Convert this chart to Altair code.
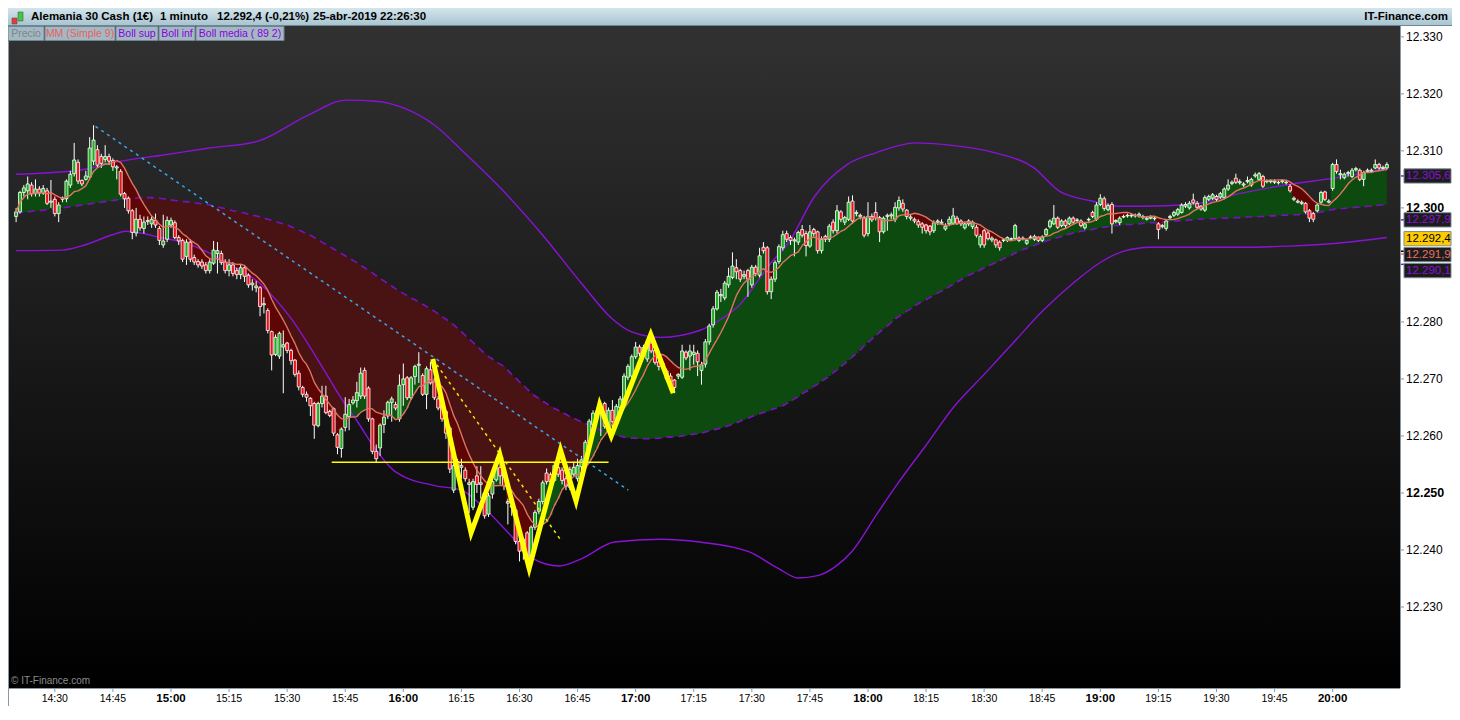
import altair as alt
import pandas as pd

# ---------------- data ----------------
START = 14 * 60 + 20  # first 1-minute candle at 14:20 (minutes of day)

open_ = [
    12298.5, 12299.3, 12302.7, 12303.0, 12304.0, 12302.5, 12303.3, 12302.6, 12303.0, 12301.0,
    12301.5, 12299.0, 12301.5, 12301.6, 12304.0, 12306.0, 12308.0, 12304.8, 12305.0, 12305.4,
    12308.2, 12310.2, 12309.0, 12308.5, 12309.0, 12308.3, 12307.0, 12306.4, 12302.5, 12301.7,
    12299.5, 12295.6, 12298.0, 12296.4, 12297.6, 12297.2, 12297.8, 12296.4, 12293.5, 12294.5,
    12297.0, 12297.4, 12294.8, 12294.3, 12291.5, 12294.0, 12291.3, 12290.6, 12290.5, 12290.0,
    12289.0, 12290.3, 12292.0, 12292.0, 12290.5, 12289.0, 12290.0, 12289.0, 12288.3, 12289.5,
    12288.2, 12286.5, 12286.0, 12286.0, 12283.0, 12282.0, 12278.3, 12274.3, 12274.0, 12275.6,
    12276.3, 12275.0, 12273.3, 12271.0, 12268.5, 12267.3,
    12266.6, 12265.7, 12261.8, 12265.7, 12267.0,
    12264.3, 12264.8, 12260.2, 12257.8, 12261.5, 12263.4, 12265.8, 12266.2, 12267.0, 12271.5,
    12268.4, 12263.0, 12257.3, 12257.9, 12262.0, 12263.5, 12265.9, 12265.5, 12263.0, 12269.0,
    12270.2, 12266.7, 12270.4, 12272.4, 12270.6, 12267.3, 12271.6, 12269.5, 12266.5, 12265.5,
    12264.3, 12261.4, 12250.5, 12255.5, 12254.5, 12254.0, 12251.5, 12247.5, 12253.0, 12251.5,
    12250.0, 12246.3, 12249.8, 12252.3, 12254.5, 12254.3, 12248.2, 12247.5, 12247.0, 12241.5,
    12239.8, 12243.0, 12238.5, 12244.0, 12246.8, 12248.5, 12253.5, 12253.2, 12252.2, 12254.5,
    12254.0, 12252.5, 12251.0, 12253.3, 12252.5, 12254.6, 12255.5, 12258.9, 12262.0, 12263.8,
    12264.2,
    12265.7, 12261.5, 12264.5, 12262.5, 12265.0, 12266.0, 12270.3, 12270.5, 12273.9, 12275.6,
    12274.5, 12273.5, 12276.3, 12275.0, 12273.0, 12272.5, 12271.4, 12270.5, 12269.8, 12270.5,
    12270.3, 12274.7, 12274.0, 12274.3, 12274.5, 12271.5, 12272.6, 12276.5, 12279.5, 12282.3,
    12284.6, 12284.2, 12286.5, 12287.8, 12289.5, 12289.0, 12288.0, 12289.0, 12286.5, 12289.6,
    12288.2, 12293.1, 12293.0, 12285.3, 12287.5, 12290.6, 12293.0, 12295.5, 12294.8, 12294.2,
    12294.0, 12296.2, 12295.5, 12293.3, 12296.2, 12295.8, 12292.5, 12295.0, 12294.5, 12297.5,
    12296.0, 12299.3, 12297.5, 12298.0, 12301.2, 12299.0, 12298.5, 12298.3, 12295.5, 12298.5,
    12299.2, 12298.3, 12295.8, 12298.5, 12298.6,
    12298.0, 12300.0, 12300.8, 12299.6, 12298.2, 12298.0,
    12297.6, 12297.2, 12297.0, 12296.8, 12296.0, 12297.5, 12297.3, 12296.3, 12297.2, 12297.3,
    12298.2, 12297.7, 12296.5, 12297.7, 12296.7, 12296.6, 12293.5, 12296.0, 12295.6, 12294.4,
    12294.4, 12294.0, 12294.3, 12294.3, 12294.5, 12294.6, 12294.7, 12294.6, 12293.8, 12294.8,
    12294.5, 12294.8, 12294.3, 12295.3, 12296.7, 12297.2, 12298.2, 12296.9, 12297.7, 12297.2,
    12298.2, 12297.8, 12297.7, 12296.5, 12297.9, 12299.2, 12298.0, 12300.6, 12301.6, 12299.7,
    12300.6, 12297.6, 12297.4, 12298.4, 12298.6, 12298.6, 12298.6, 12298.6, 12298.3, 12298.0,
    12298.2, 12298.1, 12297.2, 12296.7, 12296.4, 12298.3, 12298.7, 12298.9, 12299.2, 12300.3,
    12300.0,
    12301.4, 12300.8, 12300.3, 12299.6, 12301.5, 12301.7, 12302.0, 12301.9, 12301.8, 12303.3,
    12304.3, 12305.2, 12304.4, 12304.0, 12304.6, 12304.0, 12305.6, 12305.0, 12305.5, 12304.6,
    12304.6, 12304.5, 12304.4, 12304.6, 12304.4, 12303.8, 12301.5, 12301.0, 12300.8, 12300.8,
    12299.5, 12299.0, 12299.5, 12301.0, 12302.8, 12301.0, 12303.4, 12307.6, 12305.8, 12305.3,
    12306.0, 12305.5, 12306.7, 12306.6, 12305.0, 12306.4, 12306.4, 12307.0, 12307.6, 12306.9, 12307.0,
]

high = [
    12300.0, 12303.0, 12304.0, 12305.5, 12304.5, 12305.0, 12303.8, 12304.0, 12303.5, 12304.9,
    12302.0, 12301.0, 12302.0, 12305.0, 12306.5, 12311.4, 12308.5, 12305.0, 12306.5, 12312.4,
    12314.5, 12311.0, 12309.5, 12311.0, 12309.5, 12308.7, 12307.5, 12306.8, 12302.8, 12302.0,
    12299.8, 12300.0, 12298.8, 12298.5, 12298.5, 12298.5, 12299.0, 12296.8, 12298.8, 12298.5,
    12298.3, 12297.8, 12295.2, 12294.6, 12294.5, 12294.5, 12291.8, 12291.0, 12291.0, 12290.5,
    12291.0, 12294.2, 12294.0, 12292.5, 12291.0, 12291.0, 12290.5, 12289.5, 12290.0, 12290.0,
    12288.5, 12287.5, 12287.2, 12286.3, 12284.3, 12282.4, 12278.5, 12277.8, 12278.3, 12278.5,
    12276.5, 12275.3, 12273.5, 12271.5, 12268.8, 12267.8,
    12266.8, 12266.0, 12266.0, 12268.8, 12268.8,
    12264.6, 12265.0, 12260.5, 12261.5, 12266.8, 12266.5, 12267.0, 12269.5, 12272.0, 12272.0,
    12268.7, 12263.2, 12258.5, 12262.2, 12264.5, 12266.2, 12266.9, 12266.0, 12270.8, 12272.7,
    12270.5, 12270.5, 12272.5, 12274.7, 12271.0, 12272.2, 12273.0, 12270.2, 12267.0, 12266.0,
    12264.6, 12261.8, 12255.5, 12256.0, 12256.0, 12254.5, 12252.5, 12252.5, 12254.7, 12254.7,
    12250.5, 12250.0, 12252.5, 12255.0, 12256.0, 12254.8, 12249.0, 12248.5, 12247.5, 12242.0,
    12242.2, 12243.3, 12244.3, 12247.0, 12249.0, 12252.2, 12254.3, 12253.6, 12255.5, 12255.0,
    12254.5, 12253.0, 12254.6, 12255.5, 12256.0, 12256.5, 12259.3, 12263.0, 12264.5, 12265.0,
    12265.0,
    12266.0, 12265.0, 12266.3, 12265.6, 12267.0, 12271.0, 12272.6, 12274.3, 12276.5, 12276.0,
    12276.0, 12277.0, 12277.8, 12275.3, 12273.3, 12273.0, 12271.8, 12271.0, 12270.0, 12271.0,
    12276.0, 12275.0, 12276.0, 12276.0, 12275.0, 12273.0, 12277.0, 12279.7, 12282.8, 12285.6,
    12285.8, 12287.2, 12289.5, 12292.2, 12291.0, 12289.3, 12289.0, 12289.3, 12290.0, 12290.0,
    12293.0, 12294.0, 12293.3, 12288.0, 12290.8, 12293.6, 12296.0, 12296.0, 12295.2, 12294.8,
    12296.0, 12297.0, 12296.0, 12297.0, 12296.5, 12296.0, 12295.0, 12295.3, 12297.2, 12298.0,
    12300.5, 12299.6, 12298.6, 12302.0, 12302.2, 12299.6, 12299.0, 12298.6, 12301.0, 12299.0,
    12301.0, 12298.6, 12298.5, 12299.0, 12299.2,
    12301.0, 12302.0, 12301.5, 12299.8, 12298.8, 12298.3,
    12298.0, 12297.5, 12297.2, 12297.0, 12297.8, 12298.0, 12298.0, 12297.3, 12298.5, 12300.0,
    12298.6, 12298.0, 12297.5, 12298.0, 12297.8, 12297.0, 12295.4, 12296.3, 12296.0, 12295.0,
    12294.6, 12294.3, 12294.7, 12295.0, 12294.8, 12297.2, 12295.0, 12295.0, 12294.6, 12295.2,
    12295.3, 12295.0, 12295.2, 12296.5, 12298.0, 12300.5, 12298.5, 12298.0, 12298.0, 12298.5,
    12298.5, 12298.2, 12298.0, 12297.5, 12298.3, 12299.5, 12301.0, 12302.4, 12302.0, 12300.8,
    12301.0, 12298.0, 12298.5, 12298.8, 12299.0, 12299.0, 12299.0, 12299.2, 12298.8, 12298.5,
    12298.7, 12298.5, 12297.5, 12297.2, 12298.0, 12298.8, 12299.5, 12300.0, 12300.8, 12301.0,
    12301.2,
    12302.5, 12301.2, 12300.5, 12302.2, 12302.3, 12302.6, 12302.3, 12302.8, 12303.6, 12305.0,
    12304.8, 12306.0, 12305.0, 12304.5, 12305.5, 12305.3, 12306.2, 12306.3, 12305.8, 12305.0,
    12305.0, 12305.0, 12304.8, 12305.0, 12304.8, 12304.2, 12302.0, 12301.5, 12301.3, 12301.0,
    12299.8, 12299.3, 12300.8, 12303.0, 12303.0, 12301.5, 12307.9, 12308.5, 12306.7, 12306.2,
    12306.5, 12307.0, 12307.2, 12306.9, 12306.5, 12306.9, 12306.9, 12308.5, 12307.9, 12307.4, 12308.0,
]

low = [
    12297.5, 12299.0, 12302.0, 12301.5, 12302.0, 12302.0, 12302.0, 12302.3, 12300.5, 12300.0,
    12298.5, 12297.5, 12301.0, 12301.0, 12303.5, 12305.5, 12304.2, 12303.8, 12304.8, 12305.0,
    12307.5, 12307.0, 12307.0, 12308.0, 12307.5, 12306.5, 12305.0, 12302.0, 12300.0, 12299.0,
    12294.5, 12295.0, 12296.0, 12295.5, 12297.0, 12296.5, 12296.5, 12293.5, 12293.0, 12294.0,
    12296.5, 12294.5, 12293.5, 12290.5, 12290.0, 12290.5, 12290.0, 12289.5, 12289.3, 12288.5,
    12288.5, 12290.0, 12288.5, 12290.0, 12288.5, 12288.0, 12288.0, 12287.5, 12287.5, 12287.0,
    12286.0, 12285.5, 12285.2, 12281.0, 12281.5, 12278.0, 12271.5, 12274.0, 12273.5, 12267.5,
    12274.5, 12272.5, 12270.4, 12268.0, 12266.8, 12266.0,
    12263.5, 12259.5, 12261.5, 12265.0, 12263.8,
    12263.3, 12260.0, 12256.8, 12256.2, 12260.8, 12261.0, 12265.5, 12265.0, 12266.5, 12266.5,
    12262.5, 12256.8, 12255.4, 12256.5, 12260.5, 12263.0, 12262.5, 12264.5, 12262.5, 12265.3,
    12266.3, 12266.3, 12269.0, 12269.3, 12267.0, 12264.7, 12269.0, 12266.3, 12264.5, 12262.5,
    12259.5, 12253.5, 12250.0, 12253.0, 12252.5, 12252.0, 12246.5, 12247.0, 12250.0, 12249.0,
    12245.5, 12245.8, 12249.0, 12252.0, 12251.5, 12250.5, 12244.5, 12246.0, 12241.0, 12238.0,
    12238.3, 12236.8, 12238.0, 12243.5, 12246.3, 12248.0, 12251.5, 12251.5, 12252.0, 12252.8,
    12251.5, 12250.5, 12250.5, 12253.0, 12252.0, 12252.5, 12255.0, 12258.5, 12261.5, 12263.3,
    12260.0,
    12261.3, 12261.0, 12261.0, 12262.0, 12264.5, 12265.5, 12269.8, 12270.0, 12273.5, 12274.0,
    12274.0, 12273.0, 12274.5, 12272.5, 12271.5, 12271.8, 12269.5, 12269.0, 12267.5, 12270.0,
    12270.0, 12273.3, 12271.5, 12272.5, 12270.5, 12269.0, 12272.0, 12276.0, 12279.0, 12282.0,
    12283.5, 12283.8, 12286.0, 12287.5, 12287.5, 12287.0, 12287.5, 12284.4, 12286.0, 12288.0,
    12287.8, 12292.0, 12284.8, 12284.0, 12287.0, 12290.2, 12292.5, 12294.0, 12293.5, 12291.5,
    12293.5, 12294.8, 12291.5, 12293.0, 12295.0, 12292.0, 12292.0, 12294.0, 12294.0, 12295.5,
    12295.5, 12297.5, 12297.0, 12297.7, 12297.2, 12298.5, 12298.0, 12294.8, 12295.0, 12297.5,
    12297.8, 12294.0, 12295.5, 12296.0, 12298.0,
    12297.5, 12299.5, 12299.3, 12298.0, 12297.8, 12297.3,
    12296.5, 12295.5, 12295.5, 12295.2, 12295.6, 12297.0, 12297.0, 12296.0, 12296.8, 12297.0,
    12297.0, 12296.8, 12296.2, 12296.8, 12296.3, 12294.8, 12293.0, 12293.0, 12294.3, 12294.0,
    12293.0, 12292.5, 12294.0, 12294.0, 12294.2, 12294.3, 12294.0, 12294.3, 12293.5, 12294.5,
    12294.2, 12294.0, 12294.0, 12295.0, 12296.4, 12297.0, 12296.3, 12296.6, 12296.5, 12297.0,
    12297.2, 12297.5, 12296.6, 12296.2, 12297.6, 12298.2, 12297.7, 12300.3, 12299.5, 12299.4,
    12295.5, 12297.3, 12297.0, 12298.2, 12298.3, 12298.3, 12298.3, 12298.3, 12298.0, 12297.8,
    12298.0, 12297.8, 12294.5, 12296.4, 12296.0, 12298.0, 12298.4, 12298.6, 12299.0, 12300.0,
    12299.7,
    12300.6, 12299.8, 12299.5, 12299.3, 12301.2, 12301.4, 12301.2, 12301.6, 12301.5, 12303.0,
    12304.0, 12304.2, 12304.1, 12303.7, 12304.3, 12303.7, 12305.3, 12304.8, 12303.5, 12304.3,
    12304.3, 12304.2, 12304.1, 12304.3, 12304.1, 12302.7, 12301.2, 12300.8, 12300.5, 12299.0,
    12297.5, 12297.5, 12299.2, 12300.7, 12301.2, 12300.8, 12303.0, 12306.0, 12305.0, 12305.0,
    12305.5, 12305.2, 12306.4, 12304.7, 12303.8, 12306.1, 12306.1, 12306.8, 12306.7, 12306.6, 12306.7,
]

close = [
    12299.3, 12302.7, 12303.5, 12304.2, 12302.5, 12303.3, 12302.6, 12303.4, 12300.8, 12301.2,
    12299.0, 12300.5, 12301.7, 12304.7, 12305.9, 12308.4, 12304.7, 12304.2, 12305.6, 12310.5,
    12311.9, 12307.5, 12307.8, 12309.0, 12308.2, 12307.2, 12307.2, 12302.4, 12301.6, 12299.5,
    12295.7, 12298.0, 12296.5, 12297.5, 12297.8, 12298.0, 12297.0, 12294.3, 12294.2, 12297.8,
    12297.8, 12294.8, 12294.2, 12291.0, 12294.0, 12291.0, 12290.5, 12290.0, 12289.8, 12289.0,
    12290.5, 12292.6, 12292.5, 12290.4, 12289.0, 12290.0, 12288.5, 12288.3, 12289.5, 12288.0,
    12286.5, 12286.8, 12286.3, 12282.7, 12283.2, 12278.5, 12274.2, 12277.3, 12278.0, 12276.0,
    12275.0, 12273.2, 12270.8, 12268.6, 12267.3, 12266.8,
    12265.3, 12261.9, 12265.7, 12267.0, 12264.1,
    12263.6, 12260.5, 12258.0, 12261.2, 12263.8, 12265.5, 12266.3, 12267.6, 12271.0, 12267.0,
    12263.0, 12257.3, 12256.0, 12261.9, 12263.3, 12265.9, 12266.5, 12264.9, 12268.9, 12270.0,
    12266.7, 12270.2, 12272.2, 12272.6, 12267.3, 12271.8, 12269.3, 12266.7, 12264.9, 12263.0,
    12260.5, 12254.2, 12254.8, 12254.0, 12254.8, 12252.5, 12251.8, 12252.0, 12251.5, 12251.8,
    12246.0, 12249.5, 12252.0, 12254.4, 12253.0, 12251.3, 12248.5, 12247.8, 12241.5, 12239.8,
    12241.9, 12238.5, 12244.0, 12246.6, 12248.5, 12251.8, 12252.0, 12252.0, 12254.8, 12253.3,
    12252.2, 12251.2, 12254.1, 12254.5, 12254.8, 12255.8, 12258.9, 12262.6, 12264.0, 12264.4,
    12264.5,
    12261.7, 12264.5, 12262.5, 12265.2, 12266.5, 12270.5, 12272.2, 12273.9, 12275.6, 12274.5,
    12275.5, 12276.5, 12274.9, 12272.9, 12272.2, 12272.7, 12270.0, 12269.5, 12268.5, 12270.8,
    12274.9, 12273.7, 12274.9, 12274.7, 12273.0, 12272.5, 12276.5, 12279.3, 12282.3, 12285.2,
    12284.8, 12286.8, 12288.0, 12289.8, 12288.8, 12287.5, 12288.3, 12287.5, 12289.6, 12288.5,
    12291.6, 12292.5, 12285.3, 12287.5, 12290.4, 12293.2, 12295.3, 12294.5, 12294.3, 12294.4,
    12295.7, 12295.2, 12293.4, 12295.8, 12295.5, 12292.5, 12294.5, 12294.5, 12296.8, 12296.0,
    12299.5, 12298.0, 12298.3, 12301.0, 12297.7, 12299.2, 12298.7, 12295.2, 12298.5, 12297.9,
    12298.3, 12295.8, 12298.2, 12298.7, 12298.8,
    12300.1, 12301.3, 12299.8, 12298.5, 12298.4, 12297.7,
    12297.0, 12296.6, 12296.0, 12295.8, 12297.4, 12297.7, 12297.5, 12296.8, 12298.0, 12298.6,
    12297.3, 12297.2, 12297.2, 12297.2, 12297.5, 12295.2, 12295.0, 12293.5, 12294.6, 12294.7,
    12293.5, 12293.0, 12294.4, 12294.8, 12294.6, 12296.9, 12294.3, 12294.7, 12294.3, 12294.9,
    12295.0, 12294.3, 12294.9, 12296.2, 12297.7, 12298.2, 12296.6, 12297.7, 12296.9, 12298.2,
    12297.5, 12297.9, 12296.9, 12297.2, 12298.0, 12298.5, 12300.5, 12301.7, 12299.9, 12300.4,
    12297.2, 12297.8, 12298.2, 12298.5, 12298.7, 12298.7, 12298.7, 12298.9, 12298.5, 12298.2,
    12298.4, 12298.2, 12296.2, 12296.9, 12297.7, 12298.5, 12299.2, 12299.7, 12300.5, 12300.6,
    12300.8,
    12300.9, 12300.1, 12299.8, 12301.8, 12302.0, 12302.3, 12301.5, 12302.5, 12303.3, 12304.0,
    12304.5, 12304.5, 12304.6, 12304.2, 12304.8, 12305.0, 12305.8, 12306.0, 12303.8, 12304.8,
    12304.8, 12304.7, 12304.5, 12304.8, 12304.5, 12303.0, 12301.7, 12301.2, 12301.0, 12299.3,
    12298.2, 12298.0, 12300.5, 12302.7, 12301.5, 12301.2, 12307.6, 12306.4, 12306.0, 12305.9,
    12306.2, 12306.6, 12306.9, 12305.0, 12306.2, 12306.6, 12306.6, 12307.6, 12307.0, 12307.1, 12307.6,
]

# Bollinger middle line (89 periods), one value per candle
boll_media = [
    12299.1, 12299.2, 12299.3, 12299.3, 12299.4, 12299.5, 12299.5, 12299.6, 12299.7, 12299.8,
    12299.8, 12299.9, 12300.0, 12300.1, 12300.2, 12300.3, 12300.4, 12300.5, 12300.6, 12300.7,
    12300.8, 12300.9, 12301.0, 12301.1, 12301.2, 12301.3, 12301.4, 12301.4, 12301.5, 12301.6,
    12301.6, 12301.7, 12301.8, 12301.8, 12301.8, 12301.8, 12301.7, 12301.7, 12301.6, 12301.5,
    12301.4, 12301.3, 12301.2, 12301.1, 12301.1, 12301.0, 12300.9, 12300.8, 12300.7, 12300.6,
    12300.5, 12300.3, 12300.2, 12300.0, 12299.9, 12299.7, 12299.5, 12299.4, 12299.2, 12299.1,
    12298.9, 12298.7, 12298.6, 12298.4, 12298.2, 12298.0, 12297.8, 12297.6, 12297.4, 12297.2,
    12297.0, 12296.7, 12296.4, 12296.1, 12295.8, 12295.5, 12295.2, 12294.8, 12294.4, 12294.0,
    12293.6, 12293.2, 12292.8, 12292.4, 12292.0, 12291.6, 12291.2, 12290.8, 12290.4, 12289.9,
    12289.5, 12289.0, 12288.6, 12288.1, 12287.6, 12287.2, 12286.7, 12286.3, 12285.8, 12285.4,
    12285.0, 12284.6, 12284.2, 12283.9, 12283.5, 12283.1, 12282.7, 12282.3, 12281.9, 12281.4,
    12280.9, 12280.5, 12280.0, 12279.5, 12278.9, 12278.3, 12277.6, 12277.0, 12276.4, 12275.8,
    12275.1, 12274.5, 12273.9, 12273.5, 12273.0, 12272.6, 12272.2, 12271.5, 12270.8, 12270.2,
    12269.5, 12268.9, 12268.2, 12267.6, 12267.0, 12266.6, 12266.1, 12265.7, 12265.2, 12264.8,
    12264.5, 12264.1, 12263.8, 12263.4, 12263.1, 12262.8, 12262.5, 12262.2, 12261.9, 12261.6,
    12261.3, 12261.0, 12260.8, 12260.5, 12260.2, 12260.1, 12260.0, 12259.8, 12259.7, 12259.6,
    12259.6, 12259.5, 12259.5, 12259.5, 12259.5, 12259.6, 12259.6, 12259.7, 12259.8, 12259.8,
    12259.9, 12259.9, 12260.0, 12260.1, 12260.2, 12260.3, 12260.4, 12260.5, 12260.7, 12260.9,
    12261.1, 12261.2, 12261.4, 12261.6, 12261.8, 12262.1, 12262.3, 12262.6, 12262.9, 12263.1,
    12263.4, 12263.6, 12263.9, 12264.1, 12264.3, 12264.6, 12264.8, 12265.1, 12265.3, 12265.7,
    12266.1, 12266.5, 12266.9, 12267.4, 12267.8, 12268.2, 12268.7, 12269.1, 12269.6, 12270.0,
    12270.5, 12271.1, 12271.6, 12272.2, 12272.7, 12273.3, 12273.9, 12274.5, 12275.1, 12275.8,
    12276.4, 12277.0, 12277.6, 12278.2, 12278.8, 12279.3, 12279.9, 12280.5, 12281.0, 12281.4,
    12281.9, 12282.3, 12282.8, 12283.2, 12283.6, 12283.9, 12284.3, 12284.7, 12285.1, 12285.4,
    12285.8, 12286.2, 12286.6, 12287.0, 12287.4, 12287.8, 12288.2, 12288.5, 12288.8, 12289.1,
    12289.5, 12289.8, 12290.1, 12290.4, 12290.7, 12291.1, 12291.4, 12291.7, 12292.1, 12292.4,
    12292.7, 12292.9, 12293.2, 12293.4, 12293.7, 12293.9, 12294.2, 12294.4, 12294.6, 12294.8,
    12295.0, 12295.2, 12295.4, 12295.6, 12295.7, 12295.9, 12296.0, 12296.1, 12296.2, 12296.4,
    12296.5, 12296.6, 12296.7, 12296.8, 12296.9, 12296.9, 12297.0, 12297.1, 12297.1, 12297.2,
    12297.2, 12297.3, 12297.3, 12297.4, 12297.4, 12297.5, 12297.5, 12297.6, 12297.6, 12297.7,
    12297.7, 12297.8, 12297.8, 12297.9, 12297.9, 12298.0, 12298.0, 12298.1, 12298.1, 12298.1,
    12298.1, 12298.2, 12298.2, 12298.2, 12298.2, 12298.3, 12298.3, 12298.3, 12298.4, 12298.4,
    12298.4, 12298.5, 12298.5, 12298.6, 12298.6, 12298.6, 12298.7, 12298.7, 12298.7, 12298.8,
    12298.8, 12298.8, 12298.9, 12298.9, 12299.0, 12299.1, 12299.2, 12299.3, 12299.4, 12299.6,
    12299.7, 12299.8, 12299.9, 12299.9, 12300.0, 12300.0, 12300.1, 12300.1, 12300.2, 12300.3,
    12300.3, 12300.4, 12300.5, 12300.5, 12300.6,
]

# Bollinger upper / lower bands (minute of day, price)
sup_t = [860, 876.2, 887.1, 897.2, 909.9, 922.5, 935.2, 945.3, 952.9, 960.5, 968.1, 975.7,
         985.9, 996.0, 1006.1, 1013.7, 1018.8, 1026.4, 1036.5, 1041.6, 1046.7, 1055.0, 1059.4,
         1066.2, 1074.6, 1082.2, 1092.3, 1099.9, 1112.6, 1122.7, 1129.5, 1137.9, 1144.7,
         1150.6, 1163.2, 1175.9, 1188.6, 1201.2, 1214]
sup_v = [12305.9, 12306.6, 12308.2, 12309.2, 12310.5, 12311.7, 12316.2, 12318.9, 12318.7,
         12317.4, 12314.5, 12309.7, 12302.9, 12295.2, 12286.7, 12280.7, 12278.3, 12277.3,
         12278.5, 12280.3, 12282.9, 12290.4, 12293.8, 12302.0, 12307.6, 12309.7, 12311.4,
         12311.1, 12309.7, 12307.1, 12302.9, 12301.2, 12300.3, 12300.3, 12300.6, 12302.5,
         12304.1, 12305.3, 12307.0]
inf_t = [860, 871.9, 877.7, 884.5, 888.3, 892.9, 897.2, 903.0, 909.9, 914.2, 922.5, 930.9,
         939.5, 943.6, 947.9, 952.9, 958.0, 968.1, 975.0, 980.8, 987.7, 993.5, 1000.3, 1006.1,
         1014.5, 1026.4, 1036.5, 1049.2, 1056.8, 1061.9, 1067.0, 1072.0, 1075.8, 1082.2,
         1087.2, 1094.8, 1102.4, 1110.0, 1117.6, 1125.2, 1132.8, 1140.4, 1145.5, 1153.1,
         1163.2, 1175.9, 1188.6, 1201.2, 1214]
inf_v = [12292.5, 12292.6, 12293.5, 12295.2, 12295.9, 12295.5, 12294.8, 12294.0, 12292.1,
         12290.4, 12287.0, 12280.7, 12271.6, 12267.0, 12262.8, 12257.6, 12253.7, 12251.3,
         12250.5, 12247.4, 12242.6, 12238.5, 12237.2, 12238.5, 12241.4, 12241.9, 12241.4,
         12239.7, 12236.8, 12235.1, 12235.5, 12237.3, 12239.7, 12246.2, 12251.2, 12258.2,
         12265.3, 12270.8, 12276.4, 12282.0, 12286.7, 12290.6, 12292.3, 12293.1, 12293.1,
         12293.1, 12293.3, 12293.8, 12294.8]

# hand-drawn objects
trend_t = [880.5, 1018.1]
trend_v = [12314.3, 12250.5]
ydash_t = [967.6, 1000.6]
ydash_v = [12273.5, 12241.8]
hline_t = [941.5, 1013.0]
hline_v = [12255.4, 12255.4]
zig_t = [967.6, 977.5, 984.9, 992.5, 1000.6, 1004.6, 1010.7, 1013.7, 1023.9, 1029.7]
zig_v = [12273.5, 12243.0, 12256.8, 12236.8, 12257.5, 12248.6, 12265.5, 12260.0, 12277.8, 12267.5]

# axis ticks and labels (the 12.290 label is hidden behind the price tags in the reference)
x_ticks = [870, 885, 900, 915, 930, 945, 960, 975, 990, 1005, 1020, 1035, 1050, 1065,
           1080, 1095, 1110, 1125, 1140, 1155, 1170, 1185, 1200]
x_labels = ["14:30", "14:45", "15:00", "15:15", "15:30", "15:45", "16:00", "16:15", "16:30",
            "16:45", "17:00", "17:15", "17:30", "17:45", "18:00", "18:15", "18:30", "18:45",
            "19:00", "19:15", "19:30", "19:45", "20:00"]
y_ticks = [12230, 12240, 12250, 12260, 12270, 12280, 12300, 12310, 12320, 12330]
y_labels = ["12.230", "12.240", "12.250", "12.260", "12.270", "12.280", "12.300",
            "12.310", "12.320", "12.330"]

# price tags on the right axis
tag_text = ["12.305,6", "12.297,9", "12.292,4", "12.291,9", "12.290,1"]
tag_value = [12305.6, 12297.9, 12292.4, 12291.9, 12290.1]
tag_pos = [12305.6, 12297.9, 12294.6, 12291.8, 12289.0]

title_parts = ["Alemania 30 Cash (1€)", "1 minuto", "12.292,4 (-0,21%)", "25-abr-2019 22:26:30"]
legend_labels = ["Precio", "MM (Simple 9)", "Boll sup", "Boll inf", "Boll media ( 89 2)"]

# ---------------- layout / style ----------------
W, H = 1392, 662
PT, PB, PR = 18, 18, 52
FONT = "Liberation Sans"
xs = alt.Scale(domain=[859.2, 1216.1], nice=False, zero=False)
ys = alt.Scale(domain=[12215.8, 12331.9], nice=False, zero=False)

GREEN_A, RED_A = "#0d4a10", "#4a1313"
GREEN_B, RED_B = "#0e5211", "#5e0505"
PURPLE = "#8a12d8"
AXIS_GRAY = "#8a99a3"

n = min(len(open_), len(high), len(low), len(close), len(boll_media))
df = pd.DataFrame({
    "t": [START + i for i in range(n)],
    "open": open_[:n], "high": high[:n], "low": low[:n], "close": close[:n],
    "media": boll_media[:n],
})
one = pd.DataFrame({"k": [0]})


def X(f):
    return alt.X(f, type="quantitative", scale=xs, axis=None)


def Y(f):
    return alt.Y(f, type="quantitative", scale=ys, axis=None)


base = alt.Chart(df).transform_window(
    ma9="mean(close)", frame=[-8, 0], sort=[alt.SortField("t")]
)

bg = alt.Chart(one).mark_rect(
    color=alt.Gradient(gradient="linear",
                       stops=[alt.GradientStop(color="#313131", offset=0),
                              alt.GradientStop(color="#000000", offset=1)],
                       x1=0, x2=0, y1=0, y2=1)
).encode(x=alt.value(0), x2=alt.value(W), y=alt.value(0), y2=alt.value(H))

fills = base.transform_calculate(
    ga_top="datum.ma9 >= datum.media ? datum.ma9 : datum.media",
    ra_bot="datum.ma9 < datum.media ? datum.ma9 : datum.media",
    gb_top="datum.close >= datum.ma9 ? datum.close : datum.ma9",
    rb_bot="datum.close < datum.ma9 ? datum.close : datum.ma9",
)
fill_ga = fills.mark_area(color=GREEN_A, interpolate="step").encode(
    x=X("t"), y=Y("ga_top"), y2=alt.Y2("media"))
fill_ra = fills.mark_area(color=RED_A, interpolate="step").encode(
    x=X("t"), y=Y("media"), y2=alt.Y2("ra_bot"))
fill_gb = fills.mark_area(color=GREEN_B, interpolate="step").encode(
    x=X("t"), y=Y("gb_top"), y2=alt.Y2("ma9"))
fill_rb = fills.mark_area(color=RED_B, interpolate="step").encode(
    x=X("t"), y=Y("ma9"), y2=alt.Y2("rb_bot"))

sup_line = alt.Chart(pd.DataFrame({"t": sup_t, "v": sup_v})).mark_line(
    color=PURPLE, strokeWidth=1.4, interpolate="monotone").encode(x=X("t"), y=Y("v"))
inf_line = alt.Chart(pd.DataFrame({"t": inf_t, "v": inf_v})).mark_line(
    color=PURPLE, strokeWidth=1.4, interpolate="monotone").encode(x=X("t"), y=Y("v"))
media_line = alt.Chart(df).mark_line(
    color="#7a10c0", strokeWidth=1.6, strokeDash=[7, 5]).encode(x=X("t"), y=Y("media"))

wicks = alt.Chart(df).mark_rule(color="#ffffff", strokeWidth=1).encode(
    x=X("t"), y=Y("low"), y2=alt.Y2("high"))
bodies = alt.Chart(df).mark_bar(size=3.0, stroke="#ffffff", strokeWidth=0.8).encode(
    x=X("t"), y=Y("open"), y2=alt.Y2("close"),
    fill=alt.condition("datum.close >= datum.open", alt.value("#1fae22"), alt.value("#e8141c")),
)
ma9_line = base.mark_line(color="#e07462", strokeWidth=1.4).encode(x=X("t"), y=Y("ma9"))

trend = alt.Chart(pd.DataFrame({"t": trend_t, "v": trend_v})).mark_line(
    color="#3aa6ea", strokeWidth=1.5, strokeDash=[3, 4]).encode(x=X("t"), y=Y("v"))
ydash = alt.Chart(pd.DataFrame({"t": ydash_t, "v": ydash_v})).mark_line(
    color="#f2e600", strokeWidth=1.5, strokeDash=[3, 4]).encode(x=X("t"), y=Y("v"))
hline = alt.Chart(pd.DataFrame({"t": hline_t, "v": hline_v})).mark_line(
    color="#ffff00", strokeWidth=1.5).encode(x=X("t"), y=Y("v"))
zig = alt.Chart(pd.DataFrame({"t": zig_t, "v": zig_v, "o": list(range(len(zig_t)))})).mark_line(
    color="#ffff00", strokeWidth=5, strokeJoin="miter", strokeMiterLimit=10).encode(
    x=X("t"), y=Y("v"), order="o:Q")

# ---- axes drawn as marks ----
xdf = pd.DataFrame({"v": x_ticks, "lab": x_labels})
xdf["bold"] = xdf["lab"].str.endswith(":00")
ydf = pd.DataFrame({"v": y_ticks, "lab": y_labels})
ydf["bold"] = ydf["v"] % 50 == 0

x_tick_marks = alt.Chart(xdf).mark_rule(color=AXIS_GRAY, strokeWidth=1).encode(
    x=X("v"), y=alt.value(H), y2=alt.value(H + 4))
x_lab_reg = alt.Chart(xdf).transform_filter("!datum.bold").mark_text(
    font=FONT, fontSize=10.5, color="#000000", baseline="middle", align="center").encode(
    x=X("v"), y=alt.value(H + 11), text="lab:N")
x_lab_bold = alt.Chart(xdf).transform_filter("datum.bold").mark_text(
    font=FONT, fontSize=11.5, fontWeight="bold", color="#000000", baseline="middle",
    align="center").encode(x=X("v"), y=alt.value(H + 11), text="lab:N")
y_tick_marks = alt.Chart(ydf).mark_rule(color=AXIS_GRAY, strokeWidth=1).encode(
    x=alt.value(W), x2=alt.value(W + 4), y=Y("v"))
y_lab_reg = alt.Chart(ydf).transform_filter("!datum.bold").mark_text(
    font=FONT, fontSize=12, color="#000000", baseline="middle", align="left").encode(
    x=alt.value(W + 6), y=Y("v"), text="lab:N")
y_lab_bold = alt.Chart(ydf).transform_filter("datum.bold").mark_text(
    font=FONT, fontSize=12.5, fontWeight="bold", color="#000000", baseline="middle",
    align="left").encode(x=alt.value(W + 6), y=Y("v"), text="lab:N")

# price tags on the right axis
tag_bg = ["#1c1c1c", "#1c1c1c", "#ffcc00", "#1c1c1c", "#1c1c1c"]
tag_fg = [PURPLE, PURPLE, "#000000", "#e8706a", PURPLE]
tags_df = pd.DataFrame({"txt": tag_text, "val": tag_value, "pos": tag_pos, "bg": tag_bg, "fg": tag_fg})
tag_base = alt.Chart(tags_df).transform_calculate(top="datum.pos + 1.25", bot="datum.pos - 1.25")
tag_boxes = tag_base.mark_rect(stroke="#7b8b96", strokeWidth=1).encode(
    x=alt.value(W + 4), x2=alt.value(W + 51), y=Y("top"), y2=alt.Y2("bot"),
    color=alt.Color("bg:N", scale=None))
tag_texts = tag_base.mark_text(align="left", baseline="middle", font=FONT, fontSize=11.5).encode(
    x=alt.value(W + 6), y=Y("pos"), text="txt:N", color=alt.Color("fg:N", scale=None))
tag_ticks = alt.Chart(tags_df).mark_rule(strokeWidth=1.5).encode(
    x=alt.value(W), x2=alt.value(W + 4), y=Y("val"), color=alt.Color("fg:N", scale=None))

# frame lines
frame_l = alt.Chart(one).mark_rule(color=AXIS_GRAY, strokeWidth=1).encode(
    x=alt.value(0.5), y=alt.value(0), y2=alt.value(H + PB))
frame_r = alt.Chart(one).mark_rule(color=AXIS_GRAY, strokeWidth=1).encode(
    x=alt.value(W + 0.5), y=alt.value(0), y2=alt.value(H))
frame_b = alt.Chart(one).mark_rule(color=AXIS_GRAY, strokeWidth=1).encode(
    x=alt.value(0), x2=alt.value(W), y=alt.value(H + 0.5))

# title bar
title_bar = alt.Chart(one).mark_rect(
    color=alt.Gradient(gradient="linear",
                       stops=[alt.GradientStop(color="#d4e5ec", offset=0),
                              alt.GradientStop(color="#a7c3cf", offset=1)],
                       x1=0, x2=0, y1=0, y2=1)
).encode(x=alt.value(0), x2=alt.value(W + PR), y=alt.value(-PT), y2=alt.value(0))
title_line = alt.Chart(one).mark_rule(color="#6c8894", strokeWidth=1).encode(
    x=alt.value(0), x2=alt.value(W + PR), y=alt.value(-0.5))
icon_df = pd.DataFrame({"x0": [4, 10], "x1": [9, 15], "y0": [-8, -14], "y1": [-2, -5],
                        "c": ["#e83a3a", "#3ccf3c"]})
icon = alt.Chart(icon_df).mark_rect(stroke="#555555", strokeWidth=0.6).encode(
    x=alt.X("x0:Q", scale=None), x2="x1:Q", y=alt.Y("y0:Q", scale=None), y2="y1:Q",
    color=alt.Color("c:N", scale=None))
title_df = pd.DataFrame({"label": title_parts, "px": [23, 152, 209, 305]})
title_txt = alt.Chart(title_df).mark_text(
    align="left", baseline="middle", font=FONT, fontSize=11.5, fontWeight="bold", color="#000000"
).encode(x=alt.X("px:Q", scale=None), y=alt.value(-PT / 2), text="label:N")
brand = alt.Chart(one).mark_text(
    align="right", baseline="middle", font=FONT, fontSize=11.5, fontWeight="bold", color="#000000",
    text="IT-Finance.com").encode(x=alt.value(W + PR - 4), y=alt.value(-PT / 2))

# legend boxes
leg_df = pd.DataFrame({
    "label": legend_labels,
    "x0": [0, 37, 108, 151, 188], "x1": [36, 107, 150, 187, 276],
    "fg": ["#7d878c", "#e8625f", "#8a00e0", "#8a00e0", "#8a00e0"],
})
leg_df["xm"] = (leg_df["x0"] + leg_df["x1"]) / 2
leg_boxes = alt.Chart(leg_df).mark_rect(fill="#a3b8c3", stroke="#6d8592", strokeWidth=1).encode(
    x=alt.X("x0:Q", scale=None), x2="x1:Q", y=alt.value(0.5), y2=alt.value(14.5))
leg_txt = alt.Chart(leg_df).mark_text(align="center", baseline="middle", font=FONT, fontSize=10.5).encode(
    x=alt.X("xm:Q", scale=None), y=alt.value(8), text="label:N", color=alt.Color("fg:N", scale=None))

watermark = alt.Chart(one).mark_text(
    align="left", baseline="middle", font=FONT, fontSize=10, color="#8c8c8c",
    text="© IT-Finance.com").encode(x=alt.value(3), y=alt.value(H - 7))

chart = alt.layer(
    bg, fill_ga, fill_ra, fill_gb, fill_rb, sup_line, inf_line, media_line,
    wicks, bodies, ma9_line,
    trend, ydash, hline, zig,
    x_tick_marks, x_lab_reg, x_lab_bold, y_tick_marks, y_lab_reg, y_lab_bold,
    tag_ticks, tag_boxes, tag_texts,
    frame_l, frame_r, frame_b,
    title_bar, title_line, icon, title_txt, brand,
    leg_boxes, leg_txt, watermark,
).properties(
    width=W, height=H,
    autosize=alt.AutoSizeParams(type="none"),
    padding={"left": 0, "top": PT, "right": PR, "bottom": PB},
).configure(background="#ffffff", font=FONT).configure_view(stroke=None)

chart.save("out.html", embed_options={"renderer": "svg", "actions": False})
